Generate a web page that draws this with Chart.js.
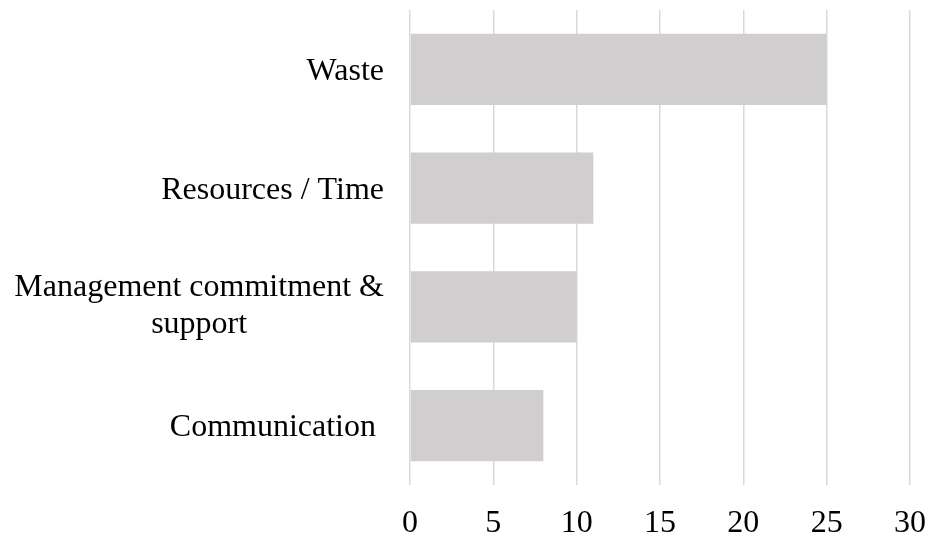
<!DOCTYPE html>
<html>
<head>
<meta charset="utf-8">
<script src="https://cdn.jsdelivr.net/npm/chart.js@4/dist/chart.umd.min.js"></script>
<style>
  html, body { margin: 0; padding: 0; background: #ffffff; }
  #wrap { width: 927px; height: 538px; position: relative; }
</style>
</head>
<body>
<div id="wrap"><canvas id="c"></canvas></div>
<script>
const categories = [
  ["Waste"],
  ["Resources / Time"],
  ["Management commitment &", "support"],
  ["Communication "]
];
const values = [25, 11, 10, 8];
const xTicks = [0, 5, 10, 15, 20, 25, 30];

const FONT = "'Liberation Serif', 'Times New Roman', serif";
const FS = 32;

const catLabelPlugin = {
  id: 'catLabels',
  afterDraw(chart) {
    const ctx = chart.ctx;
    const y = chart.scales.y;
    ctx.save();
    ctx.font = FS + 'px ' + FONT;
    ctx.fillStyle = '#000000';
    ctx.textAlign = 'center';
    ctx.textBaseline = 'middle';
    const rightEdge = chart.chartArea.left - 26;
    const lh = 37;
    categories.forEach((lines, i) => {
      const cy = y.getPixelForValue(i);
      const w = Math.max(...lines.map(l => ctx.measureText(l).width));
      const cx = rightEdge - w / 2;
      const off = lines.length > 1 ? -1 : 2;
      const y0 = cy - (lines.length - 1) * lh / 2 + off;
      lines.forEach((l, j) => ctx.fillText(l, cx, y0 + j * lh));
    });
    ctx.restore();
  }
};

new Chart(document.getElementById('c'), {
  type: 'bar',
  data: {
    labels: categories,
    datasets: [{
      data: values,
      backgroundColor: '#d0cecf',
      borderWidth: 0,
      categoryPercentage: 0.6,
      barPercentage: 1.0
    }]
  },
  options: {
    indexAxis: 'y',
    responsive: true,
    maintainAspectRatio: false,
    animation: false,
    layout: { padding: { top: 10, right: 0, left: 0, bottom: 0 } },
    plugins: { legend: { display: false }, tooltip: { enabled: false } },
    scales: {
      x: {
        min: xTicks[0],
        max: xTicks[xTicks.length - 1],
        afterBuildTicks: (s) => { s.ticks = xTicks.map(v => ({ value: v })); },
        afterFit: (s) => { s.height = 53; s.paddingLeft = 0; s.paddingRight = 17; },
        grid: { color: '#d9d9d9', lineWidth: 1.5, drawTicks: false },
        border: { display: false },
        ticks: {
          font: { family: FONT, size: FS },
          color: '#000000',
          padding: 19,
          maxRotation: 0
        }
      },
      y: {
        afterFit: (s) => { s.width = 410; },
        grid: { display: false },
        border: { display: false },
        ticks: { display: false }
      }
    }
  },
  plugins: [catLabelPlugin]
});
</script>
</body>
</html>
